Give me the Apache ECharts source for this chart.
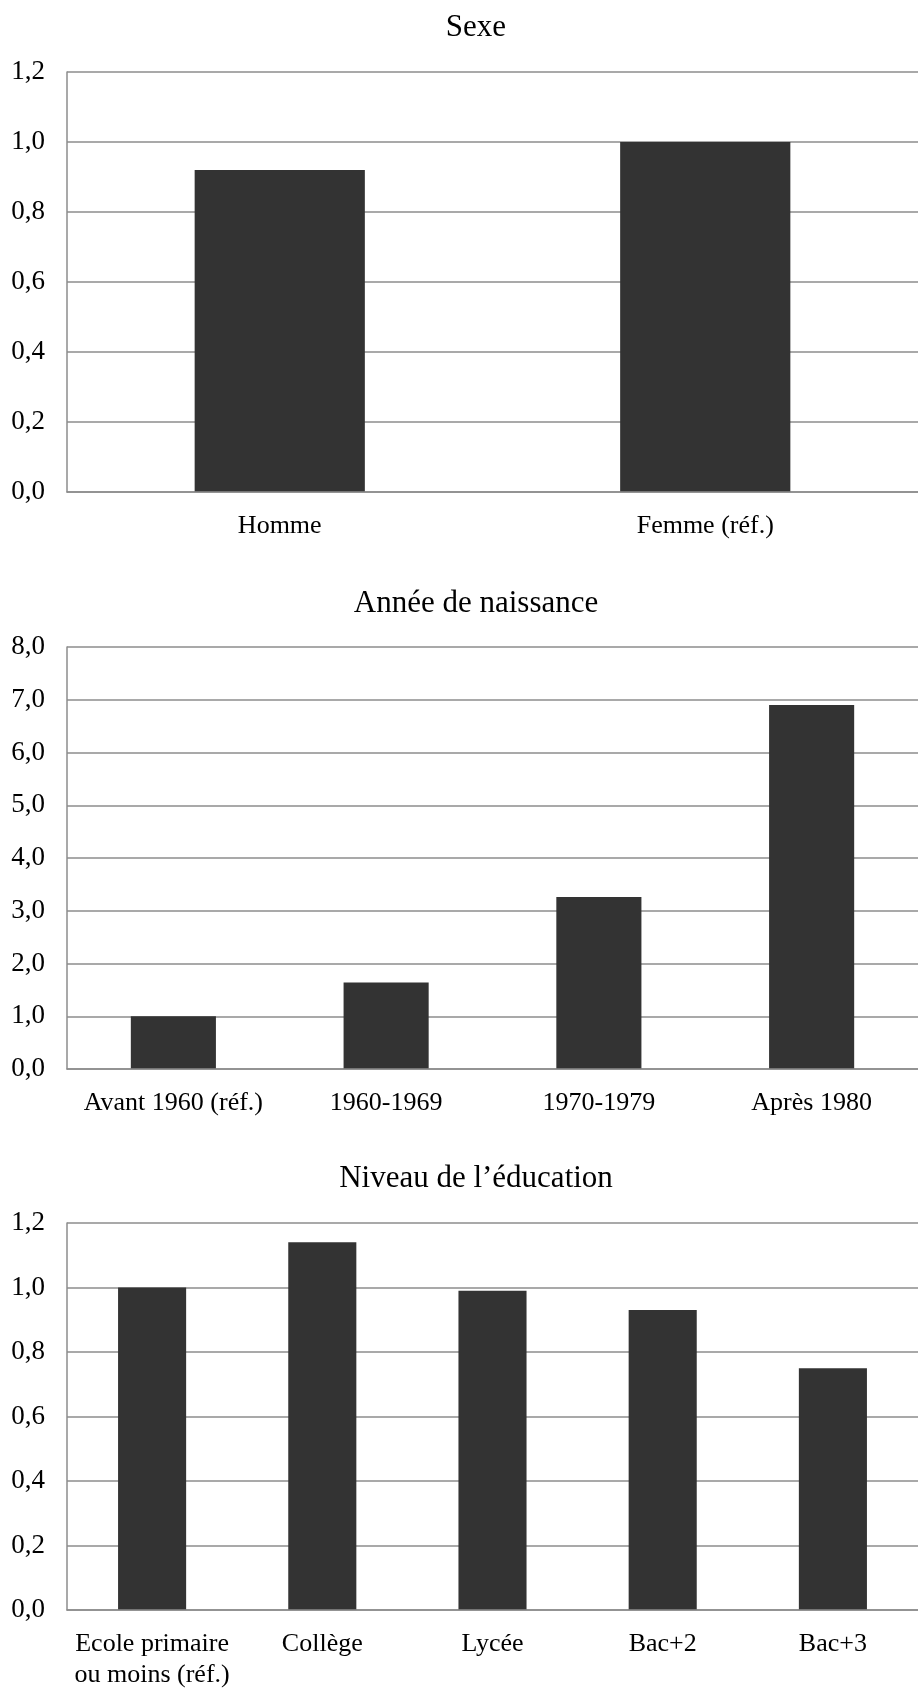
<!DOCTYPE html>
<html>
<head>
<meta charset="utf-8">
<script src="https://cdn.jsdelivr.net/npm/echarts@6.0.0/dist/echarts.min.js"></script>
<style>
  html, body { margin: 0; padding: 0; background: #fff; }
  #main { width: 918px; height: 1691px; }
</style>
</head>
<body>
<div id="main"></div>
<script>
// Sexe
var sexeCats = ['Homme', 'Femme (réf.)'];
var sexeVals = [0.92, 1.0];
// Année de naissance
var naissCats = ['Avant 1960 (réf.)', '1960-1969', '1970-1979', 'Après 1980'];
var naissVals = [1.0, 1.64, 3.26, 6.90];
// Niveau de l'éducation
var eduCats = ['Ecole primaire\nou moins (réf.)', 'Collège', 'Lycée', 'Bac+2', 'Bac+3'];
var eduVals = [1.0, 1.14, 0.99, 0.93, 0.75];

var titles = ['Sexe', 'Année de naissance', 'Niveau de l’éducation'];

var font = 'Liberation Serif';
var gridColor = '#8c8c8c';
var barColor = '#333333';

var myChart = echarts.init(document.getElementById('main'));

function yAxis(i, max, step) {
    return {
        gridIndex: i, type: 'value', min: 0, max: max, interval: step,
        axisLine: { show: true, lineStyle: { color: gridColor, width: 1.5 } },
        axisTick: { show: false },
        splitLine: { lineStyle: { color: gridColor, width: 1.5 } },
        axisLabel: {
            margin: 22, fontFamily: font, fontSize: 27, color: '#000',
            formatter: function (v) { return v.toFixed(1).replace('.', ','); }
        }
    };
}
function xAxis(i, cats) {
    return {
        gridIndex: i, type: 'category', data: cats, z: 3,
        axisLine: { lineStyle: { color: gridColor, width: 1.5 } },
        axisTick: { show: false },
        axisLabel: { margin: 19, fontFamily: font, fontSize: 26, lineHeight: 31, color: '#000', interval: 0 }
    };
}
function bars(i, vals) {
    return {
        type: 'bar', xAxisIndex: i, yAxisIndex: i, data: vals,
        barWidth: '40%', itemStyle: { color: barColor }
    };
}

const option = {
    animation: false,
    backgroundColor: '#fff',
    title: [
        { text: titles[0], top: 7 },
        { text: titles[1], top: 583 },
        { text: titles[2], top: 1158 }
    ].map(function (t) {
        t.left = 471;
        t.textAlign = 'center';
        t.textStyle = { fontFamily: font, fontSize: 31, fontWeight: 'normal', color: '#000' };
        return t;
    }),
    grid: [
        { left: 67, right: -7, top: 72, height: 420 },
        { left: 67, right: -7, top: 647, height: 422 },
        { left: 67, right: -8, top: 1223, height: 391 }
    ],
    xAxis: [xAxis(0, sexeCats), xAxis(1, naissCats), xAxis(2, eduCats)],
    yAxis: [yAxis(0, 1.2, 0.2), yAxis(1, 8, 1), yAxis(2, 1.2, 0.2)],
    series: [bars(0, sexeVals), bars(1, naissVals), bars(2, eduVals)]
};
myChart.setOption(option);
</script>
</body>
</html>
